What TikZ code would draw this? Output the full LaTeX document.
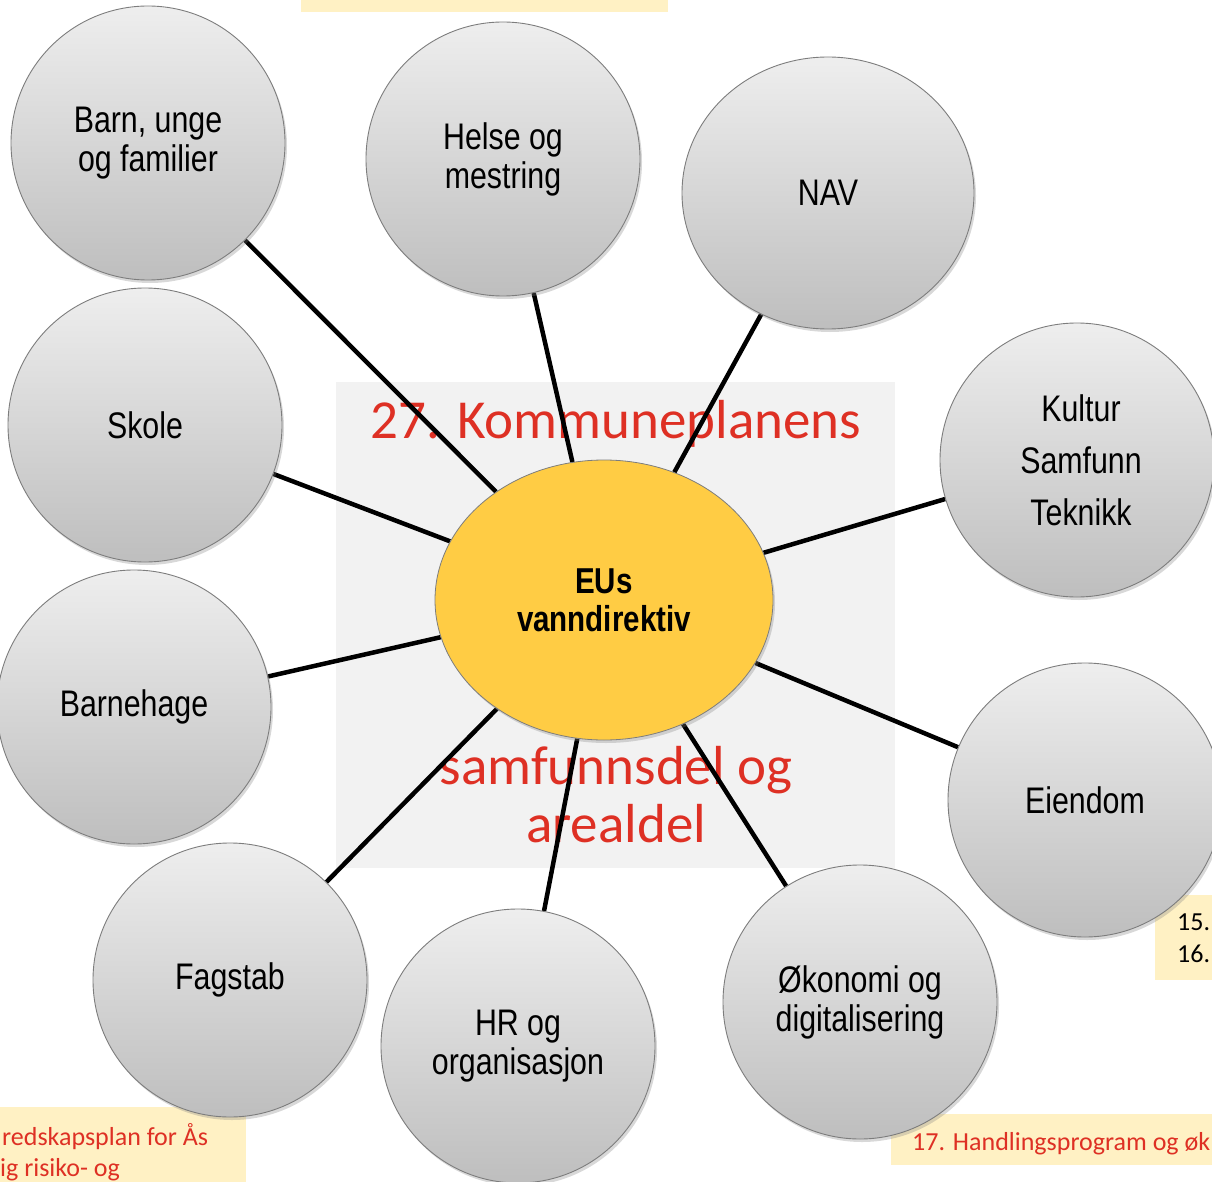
\documentclass[tikz,border=0pt]{standalone}
\usepackage{fontspec}
\setmainfont{Liberation Sans}
\newfontfamily\narrowfont[FakeStretch=0.82]{Liberation Sans}
\newfontfamily\calfont{Carlito}
\usetikzlibrary{shapes.geometric,shadows}
\definecolor{ballTop}{RGB}{238,238,238}
\definecolor{ballBot}{RGB}{190,190,190}
\definecolor{ballEdge}{RGB}{125,125,125}
\definecolor{sunfill}{RGB}{255,204,68}
\definecolor{notered}{RGB}{222,48,36}
\definecolor{noteyellow}{RGB}{255,241,196}
\definecolor{panelgray}{RGB}{242,242,242}
\pgfdeclarelayer{bg}
\pgfdeclarelayer{wires}
\pgfsetlayers{bg,wires,main}
\begin{document}
\begin{tikzpicture}[x=1pt,y=-1pt,
  ballbase/.style={inner sep=0pt, draw=ballEdge, line width=0.9pt,
    top color=ballTop, bottom color=ballBot,
    drop shadow={shadow xshift=2pt, shadow yshift=-3pt, opacity=0.3},
    font=\narrowfont\fontsize{37}{39}\selectfont, align=center, text=black},
  ball/.style={ballbase, circle, minimum size=274pt},
  oval/.style={ballbase, ellipse, minimum width=292pt, minimum height=272pt},
  sun/.style={ellipse, minimum width=338pt, minimum height=280pt, inner sep=0pt,
    fill=sunfill, draw=ballEdge, line width=0.8pt,
    drop shadow={shadow xshift=2pt, shadow yshift=-3pt, opacity=0.3},
    font=\narrowfont\bfseries\fontsize{36}{38}\selectfont, align=center},
  wire/.style={line width=4.5pt, black},
  bigred/.style={font=\calfont\fontsize{55}{60}\selectfont, text=notered, inner sep=0pt},
  note/.style={font=\calfont\fontsize{26}{30}\selectfont, text=notered, inner sep=0pt, anchor=base west},
  notefill/.style={fill=noteyellow, draw=none}
]
\useasboundingbox (0,0) rectangle (1212,1182);

% background layer: panel, red text, yellow notes
\begin{pgfonlayer}{bg}
  \fill[white] (0,0) rectangle (1212,1182);
  \fill[panelgray] (336,382) rectangle (895,868);
  \node[bigred, anchor=base] (t1) at (616,438) {27. Kommuneplanens};
  \node[bigred, anchor=base] (t2) at (616,784) {samfunnsdel og};
  \node[bigred, anchor=base] (t3) at (616,842) {arealdel};
  \fill[notefill] (301,0) rectangle (668,12.5);
  \fill[notefill] (0,1107) rectangle (246,1182);
  \node[note] (n1) at (2,1145) {redskapsplan for Ås};
  \node[note] (n2) at (0,1176) {ig risiko- og};
  \fill[notefill] (891,1114) rectangle (1212,1165);
  \node[note] (n3) at (912,1150) {17. Handlingsprogram og øk};
  \fill[notefill] (1155,895) rectangle (1212,980);
  \node[note, text=black] (n4) at (1177,930) {15.};
  \node[note, text=black] (n5) at (1177,962) {16.};
\end{pgfonlayer}

% nodes
\node[ball] (barn)  at (148,143)  {Barn, unge\\og familier};
\node[ball] (helse) at (503,159)  {Helse og\\mestring};
\node[oval] (nav)   at (828,193)  {NAV};
\node[ball, font=\narrowfont\fontsize{37}{52}\selectfont] (kult) at (1077,460) {\hspace*{8pt}Kultur\\\hspace*{8pt}Samfunn\\\hspace*{8pt}Teknikk};
\node[ball] (eiend) at (1085,800) {Eiendom};
\node[ball] (okon)  at (860,1002) {Økonomi og\\digitalisering};
\node[ball] (hr)    at (518,1046) {HR og\\organisasjon};
\node[ball] (fag)   at (230,980)  {Fagstab};
\node[ball] (bhage) at (134,707)  {Barnehage};
\node[ball] (skole) at (145,425)  {Skole};
\node[sun]  (ctr)   at (604,600)  {EUs\\vanndirektiv};

% connectors
\begin{pgfonlayer}{wires}
  \draw[wire] (barn) -- (ctr);
  \draw[wire] (helse) -- (ctr);
  \draw[wire] (nav) -- (ctr);
  \draw[wire] (kult) -- (ctr);
  \draw[wire] (eiend) -- (ctr);
  \draw[wire] (okon) -- (ctr);
  \draw[wire] (hr) -- (ctr);
  \draw[wire] (fag) -- (ctr);
  \draw[wire] (bhage) -- (ctr);
  \draw[wire] (skole) -- (ctr);
\end{pgfonlayer}
\end{tikzpicture}
\end{document}
